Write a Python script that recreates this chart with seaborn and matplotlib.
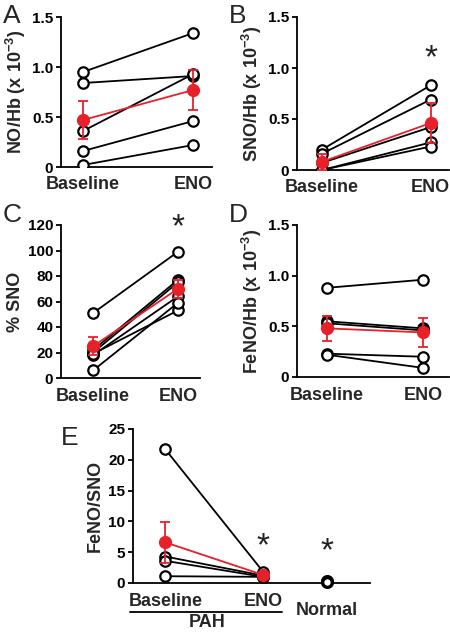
import matplotlib
matplotlib.use('Agg')
import matplotlib.pyplot as plt
import numpy as np
import pandas as pd
import seaborn as sns

# Data
conds = ['Baseline', 'ENO']

# A: NO/Hb (x 10^-3)
a_base = [0.95, 0.84, 0.36, 0.16, 0.02]
a_eno = [1.34, 0.91, 0.93, 0.46, 0.22]
a_mean = [0.47, 0.77]
a_err = [0.19, 0.20]

# B: SNO/Hb (x 10^-3)
b_base = [0.20, 0.16, 0.07, 0.00, 0.00]
b_eno = [0.83, 0.69, 0.42, 0.27, 0.23]
b_mean = [0.08, 0.46]
b_err = [0.08, 0.20]

# C: % SNO
c_base = [51, 22, 20, 18, 19, 6]
c_eno = [99, 77, 75, 64, 53, 59]
c_mean = [25, 70]
c_err = [7, 7]

# D: FeNO/Hb (x 10^-3)
d_base = [0.88, 0.55, 0.53, 0.23, 0.22]
d_eno = [0.96, 0.48, 0.46, 0.20, 0.09]
d_mean = [0.48, 0.44]
d_err = [0.12, 0.14]

# E: FeNO/SNO
e_base = [21.7, 4.3, 3.6, 1.1]
e_eno = [1.8, 1.2, 1.0, 1.0]
e_mean = [6.6, 1.3]
e_err = [3.3, 0.3]
e_normal = [0.35, 0.1]

sns.set_theme(style='ticks')
plt.rcParams['font.family'] = ['Liberation Sans', 'DejaVu Sans']
plt.rcParams['mathtext.fontset'] = 'custom'
plt.rcParams['mathtext.rm'] = 'Liberation Sans:bold'
plt.rcParams['mathtext.default'] = 'rm'

W, H = 450, 632
fig = plt.figure(figsize=(4.5, 6.32), dpi=100)
fig.patch.set_facecolor('white')


def make_ax(left, right, top, bottom):
    return fig.add_axes([left / W, 1 - bottom / H, (right - left) / W, (bottom - top) / H])


def panel(ax, base, eno, mean, err, xpos=(0, 1)):
    n = len(base)
    df = pd.DataFrame({'x': [xpos[0]] * n + [xpos[1]] * n,
                       'val': list(base) + list(eno),
                       'subj': list(range(n)) * 2})
    sns.lineplot(data=df, x='x', y='val', units='subj', estimator=None, ax=ax,
                 color='black', lw=1.3, marker='o', markersize=7.5,
                 markerfacecolor='white', markeredgecolor='black', markeredgewidth=1.6,
                 legend=False, zorder=3)
    ax.errorbar(list(xpos), mean, yerr=err, color='#e8202a', lw=1.3, marker='o',
                markersize=8.5, capsize=3.5, elinewidth=1.3, capthick=1.3, zorder=5)


def style(ax, yticks, ylabels, ylim, xlim, ylabel, xpad=6.5):
    sns.despine(ax=ax)
    ax.set_facecolor('white')
    ax.set_ylim(ylim)
    ax.set_xlim(xlim)
    ax.set_yticks(yticks)
    ax.set_yticklabels(ylabels, fontsize=11, fontweight='bold')
    ax.set_xticks([0, 1])
    ax.set_xticklabels(conds, fontsize=13, fontweight='bold')
    ax.set_xlabel('')
    ax.set_ylabel(ylabel, fontsize=13, fontweight='bold', labelpad=3)
    for s in ['left', 'bottom']:
        ax.spines[s].set_linewidth(1.3)
        ax.spines[s].set_color('black')
    ax.tick_params(axis='y', length=3.5, width=1.3, pad=2, colors='black')
    ax.tick_params(axis='x', length=0, pad=xpad)


hb_ticks = [0, 0.5, 1.0, 1.5]
hb_labels = ['0', '0.5', '1.0', '1.5']
star = dict(fontsize=24, ha='center', va='center', color='#222222', clip_on=False)

# A
axA = make_ax(61, 212, 17, 167)
panel(axA, a_base, a_eno, a_mean, a_err)
style(axA, hb_ticks, hb_labels, (0, 1.5), (-0.2, 1.17), r'NO/Hb (x 10$^{-3}$)')

# B
axB = make_ax(297, 449, 17, 170)
panel(axB, b_base, b_eno, b_mean, b_err)
style(axB, hb_ticks, hb_labels, (0, 1.5), (-0.23, 1.17), r'SNO/Hb (x 10$^{-3}$)')
axB.text(1, 1.09, '*', **star)

# C
axC = make_ax(61, 200, 225, 378)
panel(axC, c_base, c_eno, c_mean, c_err)
style(axC, [0, 20, 40, 60, 80, 100, 120], ['0', '20', '40', '60', '80', '100', '120'],
      (0, 120), (-0.38, 1.26), '% SNO', xpad=7.5)
axC.text(1, 118, '*', **star)

# D
axD = make_ax(297, 449, 225, 377)
panel(axD, d_base, d_eno, d_mean, d_err)
style(axD, hb_ticks, hb_labels, (0, 1.5), (-0.31, 1.27), r'FeNO/Hb (x 10$^{-3}$)', xpad=7.5)

# E
axE = make_ax(133, 370, 429, 583)
panel(axE, e_base, e_eno, e_mean, e_err)
axE.plot([1.65] * len(e_normal), e_normal, 'o', markersize=7, markerfacecolor='white',
         markeredgecolor='black', markeredgewidth=2.4, zorder=4, clip_on=False)
style(axE, [0, 5, 10, 15, 20, 25], ['0', '5', '10', '15', '20', '25'],
      (0, 25), (-0.33, 2.09), 'FeNO/SNO', xpad=7.5)
axE.text(1, 5.9, '*', **star)
axE.text(1.65, 5.0, '*', **star)
trE = axE.get_xaxis_transform()
axE.text(1.65, -0.18, 'Normal', transform=trE, fontsize=13, fontweight='bold',
         ha='center', va='center')
axE.plot([-0.36, 1.19], [-0.19, -0.19], transform=trE, color='black', lw=1.3, clip_on=False)
axE.text(0.43, -0.285, 'PAH', transform=trE, fontsize=13, fontweight='bold',
         ha='center', va='baseline')

# panel letters
for lab, x, y in [('A', 12, 16), ('B', 238, 16), ('C', 12, 215), ('D', 238, 215), ('E', 70, 438)]:
    fig.text(x / W, 1 - y / H, lab, fontsize=19, ha='center', va='center')

fig.savefig('out.png', dpi=100, facecolor='white')
